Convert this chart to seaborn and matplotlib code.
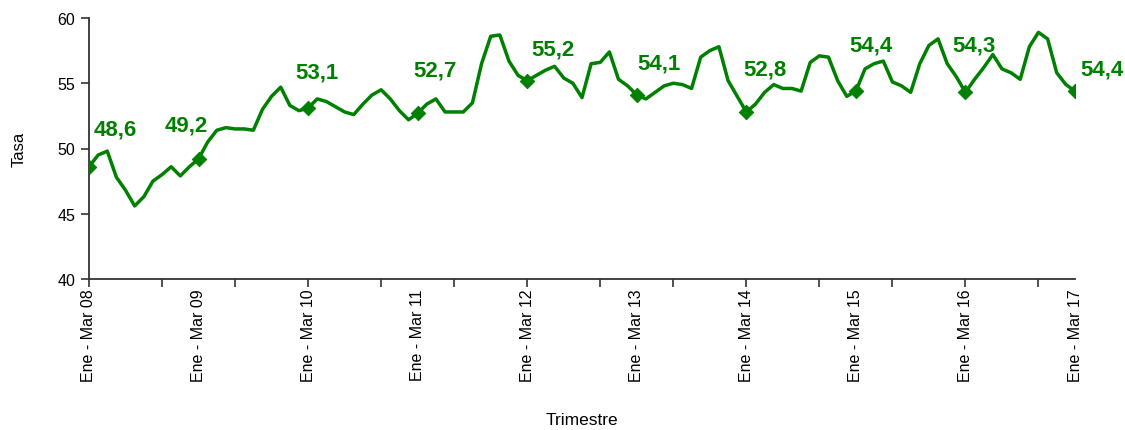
import numpy as np
import pandas as pd
import seaborn as sns
import matplotlib.pyplot as plt

# Monthly rolling quarters, Ene-Mar 08 ... Ene-Mar 17
tasa = [
    48.6, 49.5, 49.8, 47.8, 46.8, 45.6, 46.3, 47.5, 48.0, 48.6, 47.9, 48.6,
    49.2, 50.5, 51.4, 51.6, 51.5, 51.5, 51.4, 53.0, 54.0, 54.7, 53.3, 52.9,
    53.1, 53.8, 53.6, 53.2, 52.8, 52.6, 53.4, 54.1, 54.5, 53.8, 52.9, 52.2,
    52.7, 53.4, 53.8, 52.8, 52.8, 52.8, 53.5, 56.5, 58.6, 58.7, 56.7, 55.6,
    55.2, 55.6, 56.0, 56.3, 55.4, 55.0, 53.9, 56.5, 56.6, 57.4, 55.3, 54.8,
    54.1, 53.8, 54.3, 54.8, 55.0, 54.9, 54.6, 57.0, 57.5, 57.8, 55.2, 54.0,
    52.8, 53.4, 54.3, 54.9, 54.6, 54.6, 54.4, 56.6, 57.1, 57.0, 55.2, 54.0,
    54.4, 56.1, 56.5, 56.7, 55.1, 54.8, 54.3, 56.5, 57.9, 58.4, 56.5, 55.5,
    54.3, 55.3, 56.2, 57.2, 56.1, 55.8, 55.3, 57.8, 58.9, 58.4, 55.8, 54.9,
    54.4,
]
year_labels = ["Ene - Mar 08", "Ene - Mar 09", "Ene - Mar 10", "Ene - Mar 11",
               "Ene - Mar 12", "Ene - Mar 13", "Ene - Mar 14", "Ene - Mar 15",
               "Ene - Mar 16", "Ene - Mar 17"]
label_values = [48.6, 49.2, 53.1, 52.7, 55.2, 54.1, 52.8, 54.4, 54.3, 54.4]

df = pd.DataFrame({"mes": range(len(tasa)), "tasa": tasa})
marks = pd.DataFrame({"mes": range(0, len(tasa), 12), "tasa": label_values})

# label offsets in pixels (dx, dy) relative to marker
offsets = [(26, 38), (-12, 34), (9, 36), (17, 43), (26, 32),
           (22, 32), (19, 43), (15, 46), (9, 47), (27, 22)]

sns.set_theme(style="white")
plt.rcParams["font.family"] = ["Liberation Sans", "DejaVu Sans"]
green = "#008000"

fig = plt.figure(figsize=(11.25, 4.31), dpi=100)
ax = fig.add_axes([89 / 1125, 1 - 280 / 431, (1075 - 89) / 1125, (280 - 19) / 431])

sns.lineplot(data=df, x="mes", y="tasa", color=green, linewidth=2.5, ax=ax)
ax.lines[0].set_solid_joinstyle("round")
sns.scatterplot(data=marks, x="mes", y="tasa", color=green, marker="D",
                s=55, edgecolor=green, zorder=5, ax=ax)

for (x, v), (dx, dy) in zip(zip(marks["mes"], label_values), offsets):
    ax.annotate(f"{v:.1f}".replace(".", ","), (x, v), xytext=(dx * 0.72, dy * 0.72),
                textcoords="offset points", ha="center", va="center",
                color=green, fontsize=16, fontweight="bold")

ax.set_xlim(0, 108)
ax.set_ylim(40, 60)
ax.set_yticks([40, 45, 50, 55, 60])
ax.xaxis.remove_overlapping_locs = False
ax.set_xticks(range(0, 109, 8))
ax.set_xticklabels([])
ax.set_xticks(range(0, 109, 12), minor=True)
ax.set_xticklabels(year_labels, minor=True, rotation=90, fontsize=11.5)
ax.tick_params(axis="x", which="major", length=6, width=1.2, color="#333333", direction="out", bottom=True)
ax.tick_params(axis="x", which="minor", length=0, pad=7, bottom=True, labelcolor="black")
ax.tick_params(axis="y", length=6, width=1.2, color="#333333", direction="out", left=True,
               labelsize=11.5, pad=4, labelcolor="black")

for s in ["top", "right"]:
    ax.spines[s].set_visible(False)
for s in ["left", "bottom"]:
    ax.spines[s].set_color("#333333")
    ax.spines[s].set_linewidth(1.3)

ax.set_xlabel("Trimestre", fontsize=12.5, labelpad=22, color="black")
ax.set_ylabel("Tasa", fontsize=12, labelpad=22, color="black")

fig.savefig("out.png", dpi=100, facecolor="white")
